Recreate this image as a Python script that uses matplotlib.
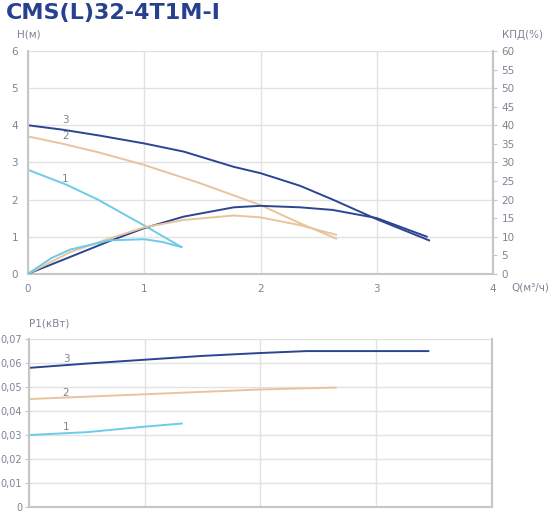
import numpy as np
import matplotlib
matplotlib.use("Agg")
from matplotlib import pyplot as plt

# --- data ---
q3_h = [0, 0.3, 0.62, 1, 1.34, 1.77, 2, 2.34, 2.62, 3, 3.45]
h3 = [4.0, 3.88, 3.72, 3.51, 3.29, 2.88, 2.71, 2.37, 2.0, 1.47, 0.9]
q2_h = [0, 0.3, 0.62, 1, 1.48, 2, 2.34, 2.65]
h2 = [3.7, 3.5, 3.26, 2.93, 2.44, 1.85, 1.36, 0.95]
q1_h = [0, 0.33, 0.6, 1, 1.32]
h1 = [2.8, 2.4, 2.0, 1.3, 0.72]

q3_e = [0, 0.36, 0.7, 1, 1.34, 1.77, 2, 2.34, 2.62, 3, 3.43]
eff3 = [0, 4.5, 8.8, 12.3, 15.4, 17.9, 18.3, 17.9, 17.2, 15, 10]
q2_e = [0, 0.36, 0.7, 1, 1.34, 1.77, 2, 2.34, 2.65]
eff2 = [0, 5.8, 9.5, 12.5, 14.5, 15.7, 15.2, 13.1, 10.5]
q1_e = [0, 0.2, 0.36, 0.7, 1, 1.15, 1.32]
eff1 = [0, 4.2, 6.5, 9.0, 9.3, 8.6, 7.2]

q3_p = [0, 0.5, 1, 1.5, 2, 2.4, 3.45]
p3 = [0.058, 0.0598, 0.0614, 0.063, 0.0642, 0.065, 0.065]
q2_p = [0, 1, 2, 2.65]
p2 = [0.045, 0.047, 0.049, 0.0498]
q1_p = [0, 0.5, 1, 1.32]
p1 = [0.030, 0.0312, 0.0335, 0.0348]

c3 = '#2b4592'
c2 = '#e8c49c'
c1 = '#6ccbe8'
grid_c = '#e2e2e2'
spine_c = '#c6c6c6'
txt_c = '#7d8593'

fig = plt.figure(figsize=(5.5, 5.13), dpi=100)

fig.text(0.01, 0.975, 'CMS(L)32-4T1M-I', fontsize=16, fontweight='heavy',
         color='#27418f', va='center', ha='left')

# top: head + efficiency
ax = fig.add_axes([0.0509, 0.4663, 0.8455, 0.4343])
ax.set_xlim(0, 4)
ax.set_ylim(0, 6)
ax.set_xticks([0, 1, 2, 3, 4])
ax.set_yticks(range(7))
ax.grid(True, color=grid_c, lw=1)
ax.tick_params(length=0, labelsize=7.5, labelcolor=txt_c, pad=7)
for s in ['left', 'bottom', 'right']:
    ax.spines[s].set_color(spine_c)
    ax.spines[s].set_linewidth(1.5)
ax.spines['top'].set_visible(False)

ax.plot(q3_h, h3, color=c3, lw=1.4)
ax.plot(q2_h, h2, color=c2, lw=1.4)
ax.plot(q1_h, h1, color=c1, lw=1.4)

ax2 = ax.twinx()
ax2.set_ylim(0, 60)
ax2.set_yticks(range(0, 61, 5))
ax2.tick_params(length=3, color=spine_c, labelsize=7.5, labelcolor=txt_c, pad=3)
ax2.spines['right'].set_color(spine_c)
ax2.spines['right'].set_linewidth(1.5)
for s in ['left', 'bottom', 'top']:
    ax2.spines[s].set_visible(False)
ax2.plot(q3_e, eff3, color=c3, lw=1.4)
ax2.plot(q2_e, eff2, color=c2, lw=1.4)
ax2.plot(q1_e, eff1, color=c1, lw=1.4)

ax.text(0.32, 4.15, '3', fontsize=7.5, color=txt_c, ha='center', va='center')
ax.text(0.32, 3.7, '2', fontsize=7.5, color=txt_c, ha='center', va='center')
ax.text(0.32, 2.55, '1', fontsize=7.5, color=txt_c, ha='center', va='center')

fig.text(0.030, 0.932, 'H(м)', fontsize=7.5, color=txt_c, ha='left', va='center')
fig.text(0.987, 0.932, 'КПД(%)', fontsize=7.5, color=txt_c, ha='right', va='center')
fig.text(0.998, 0.440, 'Q(м³/ч)', fontsize=7.5, color=txt_c, ha='right', va='center')

# bottom: power
bx = fig.add_axes([0.0527, 0.0117, 0.8418, 0.3273])
bx.set_xlim(0, 4)
bx.set_ylim(0, 0.07)
bx.set_xticks([0, 1, 2, 3, 4])
bx.set_xticklabels([])
bx.set_yticks(np.arange(0, 0.071, 0.01))
bx.set_yticklabels(['0', '0,01', '0,02', '0,03', '0,04', '0,05', '0,06', '0,07'])
bx.grid(True, color=grid_c, lw=1)
bx.tick_params(axis='y', length=3, color=spine_c, labelsize=7, labelcolor=txt_c, pad=2)
bx.tick_params(axis='x', length=0)
for s in ['left', 'bottom', 'right']:
    bx.spines[s].set_color(spine_c)
    bx.spines[s].set_linewidth(1.5)
bx.spines['top'].set_visible(False)

bx.plot(q3_p, p3, color=c3, lw=1.4)
bx.plot(q2_p, p2, color=c2, lw=1.4)
bx.plot(q1_p, p1, color=c1, lw=1.4)

bx.text(0.32, 0.0617, '3', fontsize=7.5, color=txt_c, ha='center', va='center')
bx.text(0.32, 0.0477, '2', fontsize=7.5, color=txt_c, ha='center', va='center')
bx.text(0.32, 0.0333, '1', fontsize=7.5, color=txt_c, ha='center', va='center')

fig.text(0.052, 0.370, 'P1(кВт)', fontsize=7.5, color=txt_c, ha='left', va='center')

fig.savefig('out.png', dpi=100)
